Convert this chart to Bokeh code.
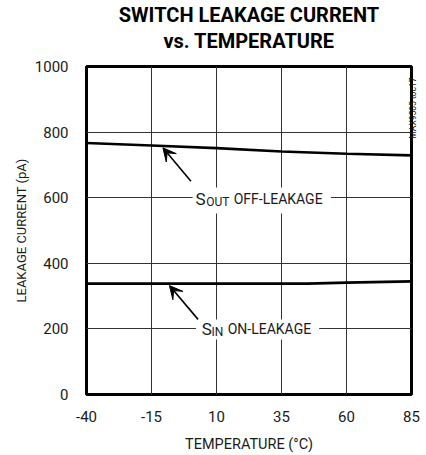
import math
from bokeh.plotting import figure
from bokeh.models import Label, Arrow, VeeHead, BoxAnnotation, Title, FixedTicker, Range1d, LinearAxis
from bokeh.embed import file_html
from bokeh.resources import INLINE

# ---- data ----
temps_c = [-40, -15, 10, 35, 60, 85]
sout_off_pa = [767, 759, 751, 741, 734, 729]
sin_temps_c = [-40, -15, 10, 35, 45, 60, 85]
sin_on_pa = [338, 338, 338, 338, 338, 341, 345]
x_ticks = [-40, -15, 10, 35, 60, 85]
y_ticks = [0, 200, 400, 600, 800, 1000]

title_line1 = "SWITCH LEAKAGE CURRENT"
title_line2 = "vs. TEMPERATURE"
x_label = "TEMPERATURE (°C)"
y_label = "LEAKAGE CURRENT (pA)"
side_note = "MAX9505 toc17"

FONT = "Roboto"
INK = "#1a1a1a"

p = figure(width=426, height=455, x_range=Range1d(-40, 85), y_range=Range1d(0, 1000),
           output_backend="svg", toolbar_location=None, title=None,
           min_border_left=86, min_border_right=11, min_border_top=66, min_border_bottom=61)

p.background_fill_color = "white"
p.border_fill_color = "white"
p.outline_line_color = "black"
p.outline_line_width = 3

for ax in (p.xaxis, p.yaxis):
    ax.axis_line_color = None
    ax.major_tick_line_color = None
    ax.minor_tick_line_color = None
    ax.major_tick_out = 0
    ax.major_tick_in = 0
    ax.minor_tick_out = 0
    ax.minor_tick_in = 0
    ax.major_label_text_font = FONT
    ax.major_label_text_font_size = "15px"
    ax.major_label_text_color = INK
    ax.axis_label_text_font = FONT
    ax.axis_label_text_font_style = "normal"
    ax.axis_label_text_color = INK

p.xaxis.ticker = FixedTicker(ticks=x_ticks)
p.yaxis.ticker = FixedTicker(ticks=y_ticks)
p.xaxis.major_label_overrides = {t: str(t) for t in x_ticks}
p.xaxis.axis_label = x_label
p.yaxis.axis_label = y_label
p.xaxis.axis_label_text_font_size = "14.5px"
p.yaxis.axis_label_text_font_size = "13px"
p.xaxis.major_label_standoff = 16
p.yaxis.major_label_standoff = 18
p.xaxis.axis_label_standoff = 11
p.yaxis.axis_label_standoff = 3

p.xgrid.grid_line_color = "#333333"
p.ygrid.grid_line_color = "#333333"
p.xgrid.grid_line_width = 1
p.ygrid.grid_line_width = 1

# two title lines (second line added first: it sits closest to the plot)
t2 = Title(text=title_line2, text_font=FONT, text_font_size="20px", text_font_style="bold",
           align="center", vertical_align="top", standoff=24, text_color="black")
t1 = Title(text=title_line1, text_font=FONT, text_font_size="20px", text_font_style="bold",
           align="center", vertical_align="bottom", standoff=0, text_color="black")
try:
    t1.standoff = -20
except Exception:
    t1.standoff = 0
p.add_layout(t2, "above")
p.add_layout(t1, "above")

# side note: a single rotated tick label on a bare right axis
note_axis = LinearAxis(ticker=FixedTicker(ticks=[780]), major_label_overrides={780: side_note},
                       axis_line_color=None, major_tick_line_color=None, minor_tick_line_color=None,
                       major_tick_out=0, major_tick_in=0, minor_tick_out=0, minor_tick_in=0,
                       major_label_standoff=2, major_label_orientation=math.pi / 2,
                       major_label_text_font=FONT, major_label_text_font_size="8.5px",
                       major_label_text_color=INK)
p.add_layout(note_axis, "right")

# data lines
p.line(temps_c, sout_off_pa, line_color="black", line_width=2.6)
p.line(sin_temps_c, sin_on_pa, line_color="black", line_width=2.6)

# label backgrounds
p.add_layout(BoxAnnotation(left=0.8, right=54.0, bottom=552, top=631, fill_color="white", fill_alpha=1,
                           line_color=None))
p.add_layout(BoxAnnotation(left=2.1, right=49.5, bottom=168, top=229, fill_color="white", fill_alpha=1,
                           line_color=None))

# arrows
for xs, ys, xe, ye in [(0.16, 650, -10.6, 752), (2.9, 229, -8.1, 332)]:
    p.add_layout(Arrow(end=VeeHead(size=13, fill_color="black", line_color="black", line_width=1),
                       x_start=xs, y_start=ys, x_end=xe, y_end=ye, line_width=1.6, line_color="black"))

def lab(x, y, text, size):
    p.add_layout(Label(x=x, y=y, text=text, text_font=FONT, text_font_size=size,
                       text_color=INK, text_baseline="middle", text_align="left"))

# S_OUT OFF-LEAKAGE
lab(1.9, 596, "S", "17px")
lab(6.05, 587, "OUT", "12px")
lab(16.6, 596, "OFF-LEAKAGE", "14px")
# S_IN ON-LEAKAGE
lab(4.3, 201, "S", "17px")
lab(8.1, 192, "IN", "12px")
lab(14.3, 201, "ON-LEAKAGE", "14px")

open("out.html", "w").write(file_html(p, INLINE))
